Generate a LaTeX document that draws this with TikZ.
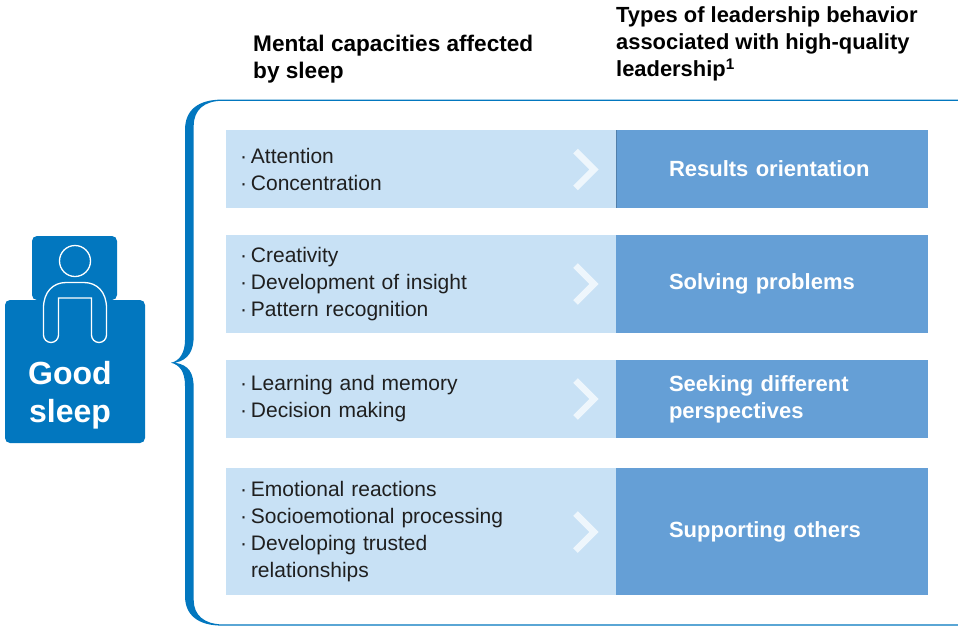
\documentclass[tikz,border=0pt]{standalone}
\usepackage{fontspec}
\setmainfont{Liberation Sans}
\usepackage{xcolor}
\usetikzlibrary{positioning}

\definecolor{sleepblue}{HTML}{0277BF}
\definecolor{lightrow}{HTML}{C8E1F5}
\definecolor{darkrow}{HTML}{659FD6}
\definecolor{chevcolor}{HTML}{EEF6FC}
\newcommand{\itm}[1]{\makebox[11pt][l]{\textperiodcentered}#1}

\begin{document}
\begin{tikzpicture}[x=1pt, y=-1pt]

% Define block styles
\tikzstyle{capacity} = [fill=lightrow, minimum width=390pt, outer sep=0pt, inner xsep=14pt, inner ysep=0pt, text width=362pt, align=left, text=black!88, font=\fontsize{21}{27}\selectfont]
\tikzstyle{behavior} = [fill=darkrow, minimum width=312pt, outer sep=0pt, inner xsep=53pt, inner ysep=0pt, text width=206pt, align=left, text=white, font=\fontsize{22}{27}\selectfont\bfseries]
\tikzstyle{heading} = [anchor=west, inner sep=0pt, align=left, text=black, font=\fontsize{21.9}{27}\selectfont\bfseries]
\tikzstyle{chevron} = [draw=chevcolor, line width=6.5pt, miter limit=10]
\tikzstyle{bedpart} = [fill=sleepblue, rounded corners=5pt, outer sep=0pt, inner sep=0pt]
\tikzstyle{outline} = [draw=white, line width=1.3pt, fill=sleepblue]

\useasboundingbox (0,0) rectangle (958,627);

% Brace
\fill [sleepblue] (958,99.6) -- (222,99.6) .. controls (198,99.6) and (185,110) .. (185,130)
  -- (185,340) .. controls (185,352) and (180,361) .. (171,362.7)
  .. controls (180,365) and (185,372) .. (185,386) -- (185,596)
  .. controls (185,615) and (198,625.6) .. (222,625.6) -- (958,625.6) -- (958,624.4) -- (222,624.4)
  .. controls (204,624) and (193.7,615) .. (193.7,600) -- (193.7,388)
  .. controls (193.7,373) and (189,365) .. (175,362.7)
  .. controls (189,360) and (193.7,350) .. (193.7,336) -- (193.7,126)
  .. controls (193.7,110) and (204,101) .. (222,100.8) -- (958,100.8) -- cycle;

% Rows
\node [capacity, minimum height=78pt] (attn) at (421,169) {\itm{Attention}\\\itm{Concentration}};
\node [capacity, minimum height=98pt, below=27pt of attn] (creat) {\itm{Creativity}\\\itm{Development of insight}\\\itm{Pattern recognition}};
\node [capacity, minimum height=78pt, below=27pt of creat] (learn) {\itm{Learning and memory}\\\itm{Decision making}};
\node [capacity, minimum height=127pt, below=30pt of learn] (emot) {\itm{Emotional reactions}\\\itm{Socioemotional processing}\\\itm{Developing trusted}\\\hspace*{11pt}relationships};

\node [behavior, minimum height=78pt, right=0pt of attn] (results) {Results orientation};
\node [behavior, minimum height=98pt, right=0pt of creat] (solving) {Solving problems};
\node [behavior, minimum height=78pt, right=0pt of learn] (seeking) {Seeking different perspectives};
\node [behavior, minimum height=127pt, right=0pt of emot] (support) {Supporting others};
\draw [darkrow!80!black, line width=0.6pt] (results.north west) -- (results.south west);

% Chevrons
\foreach \y in {169.5,284,399,532}
  \draw [chevron] (575.5,\y-18.5) -- (594,\y) -- (575.5,\y+18.5);

% Headings
\node [heading, font=\fontsize{22.6}{27}\selectfont\bfseries] (capshead) at (253,59) {Mental capacities affected\\by sleep};
\node [heading] (typeshead) at (616,44) {Types of leadership behavior\\associated with high-quality\\leadership\textsuperscript{1}};

% Good sleep icon
\node [bedpart, minimum width=85pt, minimum height=64pt] (pillow) at (74.5,268) {};
\node [bedpart, minimum width=140pt, minimum height=143pt] (bed) at (75,371.5) {};
\node [circle, draw=white, line width=1.3pt, minimum size=31pt, inner sep=0pt] (head) at (75,261) {};
\draw [outline] (43.5,335) -- (43.5,308) .. controls (43.5,292) and (53,282.5) .. (66,282.5)
  -- (84,282.5) .. controls (97,282.5) and (106.5,292) .. (106.5,308) -- (106.5,335)
  arc (0:180:7.5) -- (91.5,298) -- (58.5,298) -- (58.5,335) arc (0:180:7.5) -- cycle;
\node [inner sep=0pt, align=center, text=white, font=\fontsize{32}{38}\selectfont\bfseries] (good) at (70,395) {Good\\sleep};

\end{tikzpicture}
\end{document}
